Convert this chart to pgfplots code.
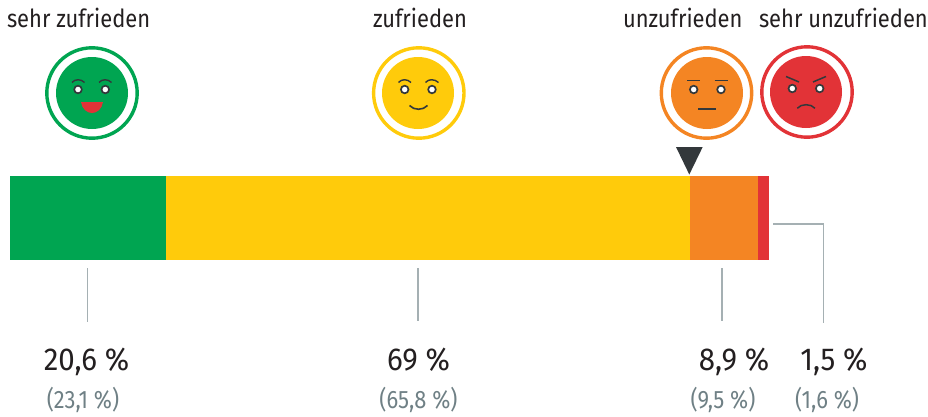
\documentclass[border=0pt]{standalone}
\usepackage{fontspec}
\setmainfont{Fira Sans}
\newfontfamily\ftop[FakeStretch=0.88]{Fira Sans}
\newfontfamily\fnum[FakeStretch=0.93]{Fira Sans}
\newfontfamily\fsub[FakeStretch=0.87]{Fira Sans}
\usepackage{pgfplots}
\pgfplotsset{compat=1.18}
\definecolor{cgreen}{HTML}{00A551}
\definecolor{cyellow}{HTML}{FFCB0B}
\definecolor{corange}{HTML}{F48523}
\definecolor{cred}{HTML}{E23337}
\definecolor{cdark}{HTML}{33383B}
\definecolor{cline}{HTML}{A5B0B3}
\definecolor{cgrey}{HTML}{6F8085}
\definecolor{ctext}{HTML}{231F20}
\newcommand{\face}[5]{%
  \fill[#3] (#1,#2) circle (36);
  \draw[#3,line width=3.4bp] (#4,#5) circle (45.2);
}
\newcommand{\eyes}[3]{%
  \draw[cdark,fill=white,line width=1.7bp] (#1,#3) circle (3.8);
  \draw[cdark,fill=white,line width=1.7bp] (#2,#3) circle (3.8);
}
\begin{document}
\begin{tikzpicture}[x=1bp,y=1bp]
\begin{axis}[
  at={(0,0)},anchor=south west,
  scale only axis,width=928bp,height=416bp,
  xmin=-1.3175,xmax=120.95,ymin=0,ymax=416,y dir=reverse,
  hide axis,clip=false,
  xbar stacked,bar width=84,
]
\addplot[xbar stacked,fill=cgreen,draw=none] coordinates {(20.6,218)};
\addplot[xbar stacked,fill=cyellow,draw=none] coordinates {(69,218)};
\addplot[xbar stacked,fill=corange,draw=none] coordinates {(8.9,218)};
\addplot[xbar stacked,fill=cred,draw=none] coordinates {(1.5,218)};
\end{axis}
\begin{scope}[x=1bp,y=-1bp,shift={(0,416bp)}]
\path[use as bounding box] (0,0) rectangle (928,416);
% leaders
\draw[cline,line width=1.1bp] (87.5,268)--(87.5,321.5);
\draw[cline,line width=1.1bp] (418,268)--(418,320.5);
\draw[cline,line width=1.1bp] (722,268)--(722,320.5);
\draw[cline,line width=1.1bp] (773,224)--(823.5,224)--(823.5,322.5);
% triangle
\fill[cdark] (676,147)--(702.7,147)--(689.3,174.5)--cycle;
% green
\face{92}{93}{cgreen}{92}{93}
\eyes{78}{105.3}{89.5}
\draw[cdark,line width=1.4bp] (72,82.5) .. controls (75,78.8) and (81,78.8) .. (84.5,82.5);
\draw[cdark,line width=1.4bp] (99,82.5) .. controls (102,78.8) and (108,78.8) .. (111.5,82.5);
\fill[cred] (81,102) -- (103,102) .. controls (102,109) and (97,113) .. (92,113) .. controls (87,113) and (82,109) .. (81,102) -- cycle;
% yellow
\face{418}{93}{cyellow}{418.8}{93}
\eyes{404.7}{432}{89.5}
\draw[cdark,line width=1.4bp] (398.5,82.5) .. controls (401.5,78.8) and (407.5,78.8) .. (411,82.5);
\draw[cdark,line width=1.4bp] (425.5,82.5) .. controls (428.5,78.8) and (434.5,78.8) .. (438.5,82.5);
\draw[cdark,line width=1.6bp] (409.5,105.5) .. controls (414,110.5) and (423,110.5) .. (427.5,105.5);
% orange
\face{707}{93}{corange}{706.5}{93}
\eyes{693.7}{721}{89.5}
\draw[cdark,line width=1.4bp] (687,80.2)--(700,80.2);
\draw[cdark,line width=1.4bp] (714.5,80.2)--(727.5,80.2);
\draw[cdark,line width=1.4bp] (698,109)--(716,109);
% red
\face{806}{92}{cred}{807}{92}
\eyes{792.3}{819.7}{88.5}
\draw[cdark,line width=1.5bp] (786,76.5)--(799,82);
\draw[cdark,line width=1.5bp] (813,82)--(826,76.5);
\draw[cdark,line width=1.5bp] (797.3,108.3) .. controls (801,103.5) and (811,103.5) .. (815,108.3);
% texts
\begin{scope}[every node/.style={inner sep=0pt,outer sep=0pt,text=ctext}]
\def\ft{\ftop\fontsize{24.9bp}{26bp}\selectfont}
\def\fn{\fnum\fontsize{31.7bp}{34bp}\selectfont}
\def\fs{\fsub\fontsize{25.2bp}{28bp}\selectfont}
\node[anchor=base west,font=\ft] at (7,27.5) {sehr zufrieden};
\node[anchor=base west,font=\ft] at (373,27.5) {zufrieden};
\node[anchor=base west,font=\ft] at (623,27.5) {unzufrieden};
\node[anchor=base west,font=\ft] at (759,27.5) {sehr unzufrieden};
\node[anchor=base,font=\fn] at (86.5,370) {20,6 \%};
\node[anchor=base,font=\fn] at (418.5,370) {69 \%};
\node[anchor=base,font=\fn] at (734,370) {8,9 \%};
\node[anchor=base,font=\fn] at (834,370) {1,5 \%};
\node[anchor=base,text=cgrey,font=\fs] at (83,408) {(23,1 \%)};
\node[anchor=base,text=cgrey,font=\fs] at (418.5,408) {(65,8 \%)};
\node[anchor=base,text=cgrey,font=\fs] at (723,408) {(9,5 \%)};
\node[anchor=base,text=cgrey,font=\fs] at (827,408) {(1,6 \%)};
\end{scope}
\end{scope}
\end{tikzpicture}
\end{document}
